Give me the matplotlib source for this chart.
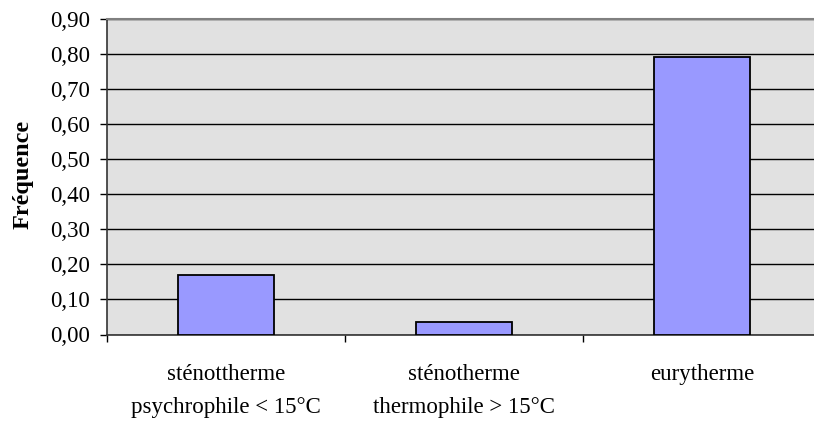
import matplotlib
matplotlib.use("Agg")
import matplotlib.pyplot as plt
import numpy as np

categories = ["sténottherme\npsychrophile < 15°C", "sténotherme\nthermophile > 15°C", "eurytherme"]
values = [0.17, 0.037, 0.793]
yticks = [0.0, 0.1, 0.2, 0.3, 0.4, 0.5, 0.6, 0.7, 0.8, 0.9]
ytick_labels = ["0,00", "0,10", "0,20", "0,30", "0,40", "0,50", "0,60", "0,70", "0,80", "0,90"]

plt.rcParams['font.family'] = ['Liberation Serif', 'DejaVu Serif']

W, H = 814, 421
fig = plt.figure(figsize=(W/100, H/100), dpi=100)
left, right, top, bottom = 107, 821, 19, 334.5
ax = fig.add_axes([left/W, 1-bottom/H, (right-left)/W, (bottom-top)/H])
ax.set_facecolor('#E1E1E1')

x = np.arange(len(categories))
ax.set_xlim(-0.5, len(categories)-0.5)
ax.set_ylim(0, 0.9)
ax.yaxis.grid(True, color='black', linewidth=1)
ax.set_axisbelow(True)
ax.bar(x, values, width=0.40, color='#9999FF', edgecolor='black', linewidth=1.3, zorder=3)

ax.set_yticks(yticks)
ax.set_yticklabels(ytick_labels, fontsize=16.5)
ax.set_xticks(x)
ax.set_xticklabels(categories, fontsize=16.5, linespacing=1.75)
ax.set_xticks(np.arange(len(categories)+1)-0.5, minor=True)
ax.tick_params(axis='x', which='major', length=0, pad=21)
ax.tick_params(axis='x', which='minor', length=5, width=1, direction='out')
ax.tick_params(axis='y', length=5, width=1, direction='out', pad=7)

for s in ['left', 'bottom']:
    ax.spines[s].set_color('#333333')
    ax.spines[s].set_linewidth(1.2)
ax.spines['top'].set_color('#808080')
ax.spines['top'].set_linewidth(1.5)
ax.spines['right'].set_visible(False)

fig.text(23/W, 1-174/H, "Fréquence", rotation=90, fontsize=17.5, fontweight='bold',
         ha='center', va='center')

fig.savefig("out.png", dpi=100)
